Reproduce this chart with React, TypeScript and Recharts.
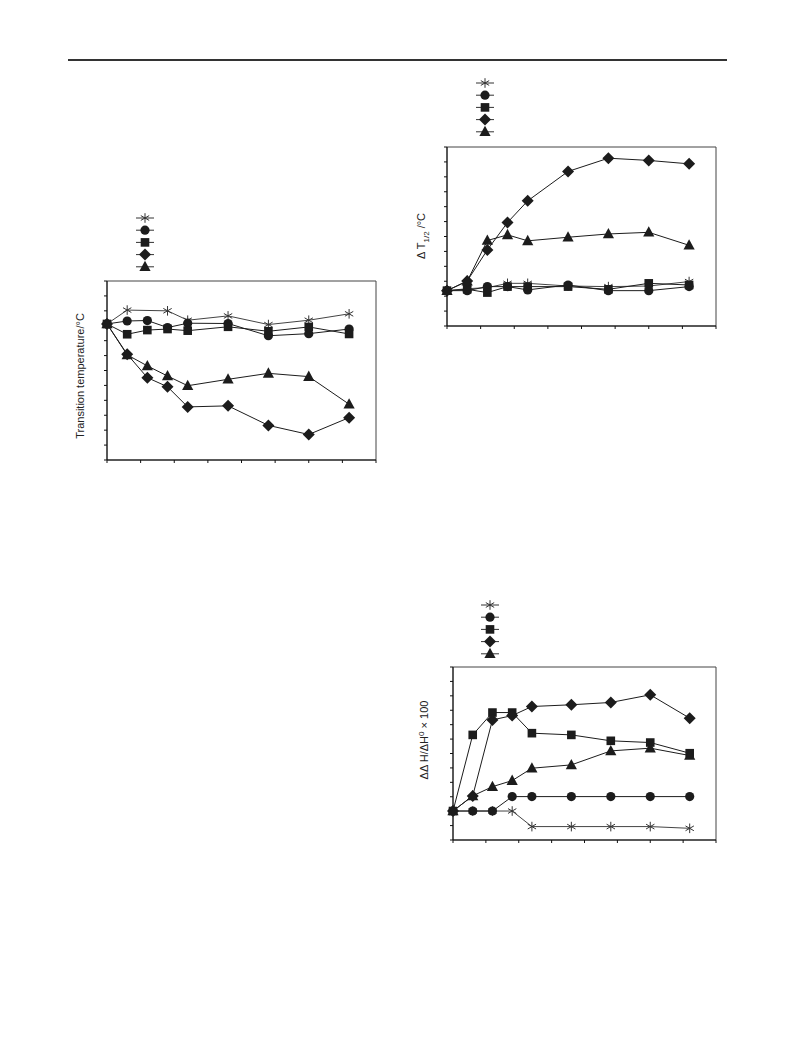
import React from "react";
import { Legend, Line, LineChart, ReferenceArea, XAxis, YAxis } from "recharts";

// x positions shared by all three panels (axis runs 0..8, no labels printed)
const xValues = [0, 0.6, 1.2, 1.8, 2.4, 3.6, 4.8, 6.0, 7.2];
const xTicks = [0, 1, 2, 3, 4, 5, 6, 7, 8];
const yTicks = [0, 1, 2, 3, 4, 5, 6, 7, 8, 9, 10, 11, 12];

// panel 1: transition temperature
const tempStar = [9.12, 10.05, null, 10.0, 9.37, 9.66, 9.08, 9.37, 9.8];
const tempCircle = [9.12, 9.32, 9.35, 8.88, 9.17, 9.15, 8.33, 8.47, 8.78];
const tempSquare = [9.12, 8.43, 8.71, 8.78, 8.67, 8.93, 8.63, 8.92, 8.45];
const tempDiamond = [9.12, 7.09, 5.52, 4.91, 3.56, 3.63, 2.32, 1.71, 2.84];
const tempTriangle = [9.12, 7.05, 6.31, 5.63, 4.98, 5.41, 5.81, 5.59, 3.74];

// panel 2: delta T1/2
const widthStar = [2.37, 2.5, 2.57, 2.86, 2.86, 2.68, 2.64, 2.68, 2.98];
const widthCircle = [2.37, 2.37, 2.64, 2.64, 2.42, 2.75, 2.37, 2.37, 2.64];
const widthSquare = [2.37, 2.46, 2.24, 2.64, 2.64, 2.64, 2.46, 2.86, 2.75];
const widthDiamond = [2.37, 3.02, 5.1, 6.94, 8.39, 10.36, 11.25, 11.1, 10.87];
const widthTriangle = [2.37, 3.0, 5.73, 6.11, 5.71, 5.95, 6.17, 6.28, 5.41];

// panel 3: delta delta H / delta H0 x 100
const enthStar = [2.01, 2.01, 2.01, 2.01, 0.93, 0.93, 0.93, 0.93, 0.81];
const enthCircle = [2.01, 2.01, 2.01, 3.01, 3.01, 3.01, 3.01, 3.01, 3.01];
const enthSquare = [2.01, 7.29, 8.84, 8.84, 7.41, 7.29, 6.88, 6.76, 6.02];
const enthDiamond = [2.01, 3.06, 8.33, 8.63, 9.26, 9.38, 9.54, 10.07, 8.45];
const enthTriangle = [2.01, 3.06, 3.7, 4.12, 4.98, 5.21, 6.18, 6.37, 5.86];

type Shape = "star" | "circle" | "square" | "diamond" | "triangle";
const shapes: Shape[] = ["star", "circle", "square", "diamond", "triangle"];

const INK = "#1c1c1c";
const FONT = "'Liberation Sans', Arial, sans-serif";

function Marker({ cx, cy, shape }: { cx: number; cy: number; shape: Shape }) {
  switch (shape) {
    case "star": {
      const r = 4.8;
      const d = r * 0.87;
      return (
        <g stroke="#333" strokeWidth={1}>
          <line x1={cx} y1={cy - r} x2={cx} y2={cy + r} />
          <line x1={cx - d} y1={cy - r / 2} x2={cx + d} y2={cy + r / 2} />
          <line x1={cx - d} y1={cy + r / 2} x2={cx + d} y2={cy - r / 2} />
        </g>
      );
    }
    case "circle":
      return <circle cx={cx} cy={cy} r={4.6} fill={INK} />;
    case "square":
      return <rect x={cx - 4.3} y={cy - 4.3} width={8.6} height={8.6} fill={INK} />;
    case "diamond":
      return (
        <polygon
          points={`${cx},${cy - 6} ${cx + 6},${cy} ${cx},${cy + 6} ${cx - 6},${cy}`}
          fill={INK}
        />
      );
    default:
      return (
        <polygon
          points={`${cx},${cy - 6} ${cx + 5.6},${cy + 4.3} ${cx - 5.6},${cy + 4.3}`}
          fill={INK}
        />
      );
  }
}

function LegendKey() {
  return (
    <svg width={22} height={60}>
      {shapes.map((s, i) => {
        const y = 6 + i * 12.2;
        return (
          <g key={s}>
            <line x1={1} y1={y} x2={19} y2={y} stroke="#333" strokeWidth={1} />
            <Marker cx={10} cy={y} shape={s} />
          </g>
        );
      })}
    </svg>
  );
}

// ticks without any labels
const NoLabel = () => <g />;

type PanelProps = {
  left: number;
  top: number;
  plotW: number;
  plotH: number;
  series: (number | null)[][];
  legendTop: number;
  legendLeft: number;
};

function Panel({ left, top, plotW, plotH, series, legendTop, legendLeft }: PanelProps) {
  const data = xValues.map((x, i) => {
    const row: Record<string, number | null> = { x };
    series.forEach((s, k) => (row[`s${k}`] = s[i]));
    return row;
  });
  const axisW = 40;
  const mTop = 70;
  const mRight = 5;
  const axisH = 10;
  return (
    <div style={{ position: "absolute", left, top }}>
      <LineChart
        width={axisW + plotW + mRight}
        height={mTop + plotH + axisH}
        data={data}
        margin={{ top: mTop, right: mRight, left: 0, bottom: 0 }}
      >
        <XAxis
          type="number"
          dataKey="x"
          domain={[0, 8]}
          ticks={xTicks}
          interval={0}
          tick={NoLabel}
          tickLine={{ stroke: "#111" }}
          tickSize={3}
          height={axisH}
          stroke="#111"
        />
        <YAxis
          type="number"
          domain={[0, 12]}
          ticks={yTicks}
          interval={0}
          tick={NoLabel}
          tickLine={{ stroke: "#111" }}
          tickSize={3}
          width={axisW}
          stroke="#111"
        />
        <ReferenceArea
          x1={0}
          x2={8}
          y1={0}
          y2={12}
          fill="none"
          stroke="#444"
          strokeWidth={1}
          ifOverflow="visible"
        />
        {shapes.map((shape, k) => (
          <Line
            key={shape}
            dataKey={`s${k}`}
            stroke={shape === "star" ? "#444" : INK}
            strokeWidth={1}
            connectNulls
            isAnimationActive={false}
            dot={(p: any) =>
              p.cy == null || p.value == null ? (
                <g key={p.index} />
              ) : (
                <Marker key={p.index} cx={p.cx} cy={p.cy} shape={shape} />
              )
            }
          />
        ))}
        <Legend
          layout="vertical"
          align="center"
          verticalAlign="middle"
          wrapperStyle={{ top: legendTop, left: legendLeft, width: 22 }}
          content={() => <LegendKey />}
        />
      </LineChart>
    </div>
  );
}

function AxisTitle({ x, y, children }: { x: number; y: number; children: React.ReactNode }) {
  return (
    <div
      style={{
        position: "absolute",
        left: x,
        top: y,
        transform: "translate(-50%, -50%) rotate(-90deg)",
        whiteSpace: "nowrap",
        fontFamily: FONT,
        fontSize: 11,
        color: "#222",
      }}
    >
      {children}
    </div>
  );
}

export default function App() {
  return (
    <div
      style={{
        position: "absolute",
        left: 0,
        top: 0,
        width: 793,
        height: 1053,
        background: "#fff",
        overflow: "hidden",
      }}
    >
      <div
        style={{ position: "absolute", left: 68, top: 59, width: 659, height: 2, background: "#333" }}
      />

      <Panel
        left={67}
        top={211}
        plotW={269}
        plotH={179}
        series={[tempStar, tempCircle, tempSquare, tempDiamond, tempTriangle]}
        legendTop={1}
        legendLeft={68}
      />
      <AxisTitle x={80} y={376}>Transition temperature/°C</AxisTitle>

      <Panel
        left={407}
        top={77}
        plotW={269}
        plotH={179}
        series={[widthStar, widthCircle, widthSquare, widthDiamond, widthTriangle]}
        legendTop={0}
        legendLeft={68}
      />
      <AxisTitle x={423} y={236}>
        <span>
          Δ T<sub style={{ fontSize: 8 }}>1/2</sub> /°C
        </span>
      </AxisTitle>

      <Panel
        left={413}
        top={597}
        plotW={263}
        plotH={173}
        series={[enthStar, enthCircle, enthSquare, enthDiamond, enthTriangle]}
        legendTop={2}
        legendLeft={67}
      />
      <AxisTitle x={423} y={740}>
        <span>
          ΔΔ H/ΔH<sup style={{ fontSize: 8 }}>0</sup> × 100
        </span>
      </AxisTitle>
    </div>
  );
}
